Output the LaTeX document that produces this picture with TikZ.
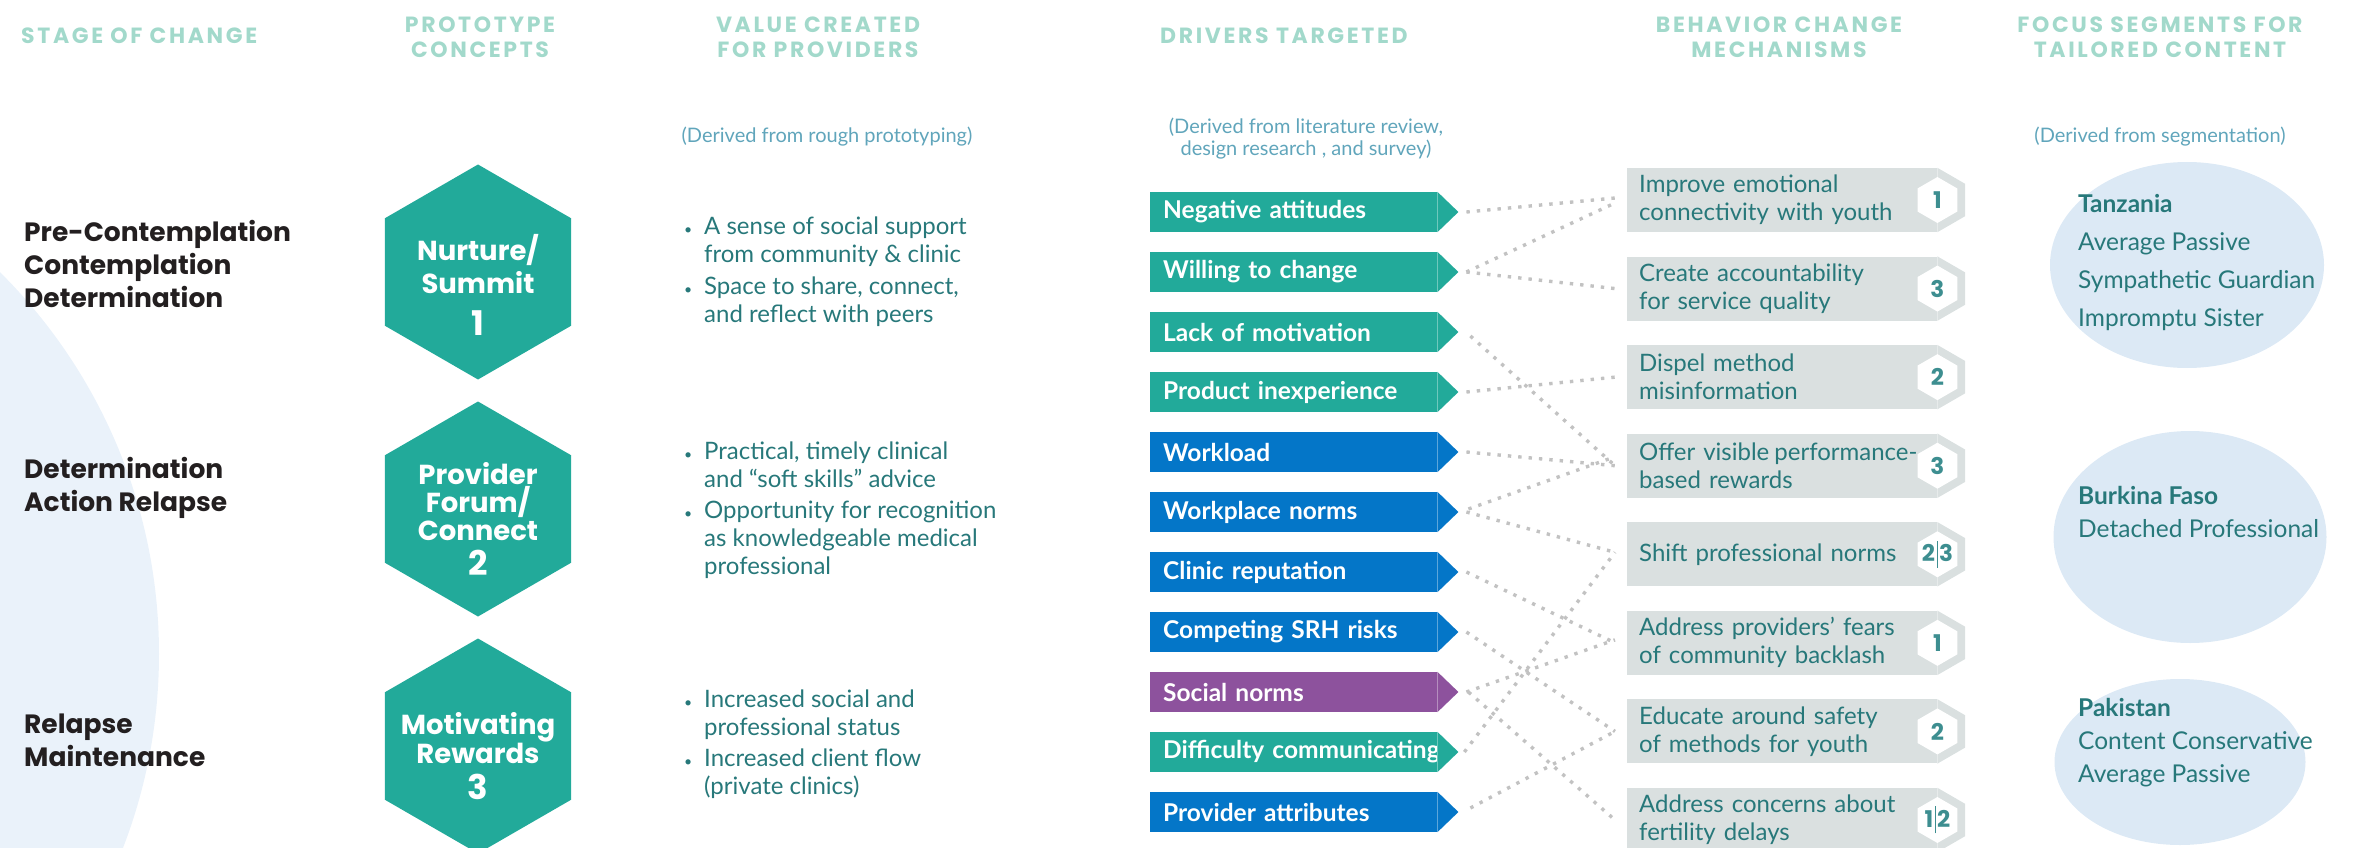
\documentclass[tikz,border=0pt]{standalone}
\usepackage{fontspec}
\setmainfont{Lato}
\newfontfamily\popf{Poppins}
\newfontfamily\popls{Poppins}[LetterSpace=12]
\usetikzlibrary{shapes.geometric}
\definecolor{cTeal}{HTML}{22AA9A}
\definecolor{cBlue}{HTML}{0476C8}
\definecolor{cPurple}{HTML}{8D529D}
\definecolor{cHead}{HTML}{A2D9CB}
\definecolor{cSub}{HTML}{60A5BB}
\definecolor{cText}{HTML}{27787A}
\definecolor{cDark}{HTML}{231F20}
\definecolor{cGray}{HTML}{DAE0E0}
\definecolor{cNum}{HTML}{3D8E90}
\definecolor{cBlob}{HTML}{DCE9F5}
\definecolor{cCircle}{HTML}{EAF2FA}
\definecolor{cDot}{HTML}{C2C2C2}
\newcommand\bul{\llap{{\fontsize{14}{14}\selectfont\textbullet}\hspace{12pt}}}
\newcommand\nsep{\hspace{1.5pt}\textcolor{cNum}{\rule[-6pt]{1pt}{27pt}}\hspace{1.5pt}}
\begin{document}
\begin{tikzpicture}[x=1pt,y=-1pt,
  hdr/.style={font=\popls\bfseries\fontsize{22}{25}\selectfont, text=cHead, align=center, inner sep=0},
  sub/.style={font=\fontsize{20}{22}\selectfont, text=cSub, align=center, inner sep=0},
  stage/.style={font=\popf\bfseries\fontsize{26.5}{33}\selectfont, text=cDark, align=left, anchor=west, inner sep=0},
  bighex/.style={regular polygon, regular polygon sides=6, shape border rotate=30, minimum size=215pt, inner sep=0, fill=cTeal},
  hextxt/.style={font=\popf\bfseries\fontsize{27.5}{31}\selectfont, text=white, align=center, inner sep=0},
  hexnum/.style={font=\popf\bfseries\fontsize{34}{34}\selectfont, text=white, inner sep=0},
  val/.style={font=\fontsize{24}{28}\selectfont, text=cText, align=left, anchor=north west, inner sep=0},
  drv/.style={rectangle, minimum width=287pt, minimum height=40pt, inner xsep=13pt, inner ysep=0pt, text width=261pt, align=left, font=\bfseries\fontsize{24.5}{24.5}\selectfont, text=white, anchor=west},
  mech/.style={rectangle, fill=cGray, minimum width=310pt, minimum height=64pt, inner xsep=12pt, inner ysep=0pt, text width=286pt, align=left, font=\fontsize{24}{28}\selectfont, text=cText, anchor=west},
  numhex/.style={regular polygon, regular polygon sides=6, shape border rotate=30, minimum size=46pt, inner sep=0, fill=white},
  numtxt/.style={font=\popf\bfseries\fontsize{23}{23}\selectfont, text=cNum, inner sep=0},
  conn/.style={draw=cDot, line width=3.4pt, dash pattern=on 3.4pt off 7pt},
  blob/.style={ellipse, fill=cBlob, inner sep=0},
  ftxt/.style={font=\fontsize{24.5}{38}\selectfont, text=cText, align=left, anchor=west, inner sep=0}
]
\useasboundingbox (0,0) rectangle (2354,848);
\clip (0,0) rectangle (2354,848);
% background circle
\fill[cCircle] (-379,654) circle[radius=538pt];
% headers
\node[hdr, anchor=west] (hStage) at (21,36) {STAGE OF CHANGE};
\node[hdr] (hProto) at (480,37.5) {PROTOTYPE\\CONCEPTS};
\node[hdr] (hValue) at (818,37.5) {VALUE CREATED\\FOR PROVIDERS};
\node[hdr, anchor=west] (hDrv) at (1160,36) {DRIVERS TARGETED};
\node[hdr] (hMech) at (1779,37.5) {BEHAVIOR CHANGE\\MECHANISMS};
\node[hdr] (hFocus) at (2160,37.5) {FOCUS SEGMENTS FOR\\TAILORED CONTENT};
% subtitles
\node[sub] (s1) at (827,137) {(Derived from rough prototyping)};
\node[sub] (s2) at (1306,139) {(Derived from literature review,\\design research , and survey)};
\node[sub] (s3) at (2160,137) {(Derived from segmentation)};
% stages
\node[stage] (st1) at (24,264) {Pre-Contemplation\\Contemplation\\Determination};
\node[stage] (st2) at (24,488) {Determination\\Action Relapse};
\node[stage] (st3) at (24,740) {Relapse\\Maintenance};
% hexagons
\node[bighex] (hx1) at (478,272) {};
\node[bighex] (hx2) at (478,509) {};
\node[bighex] (hx3) at (478,746) {};
\node[hextxt, font=\popf\bfseries\fontsize{27.5}{33}\selectfont] (hx1w) at (478,264.5) {Nurture/\\Summit};
\node[hexnum] (hx1n) at (478,323) {1};
\node[hextxt, font=\popf\bfseries\fontsize{27.5}{28}\selectfont] (hx2w) at (478,502) {Provider\\Forum/\\Connect};
\node[hexnum] (hx2n) at (478,563) {2};
\node[hextxt, font=\popf\bfseries\fontsize{27.5}{27}\selectfont] (hx3w) at (478,738.5) {Motivating\\Rewards};
\node[hexnum] (hx3n) at (478,787) {3};
% value text
\node[val] (v1) at (704,216.5) {\bul A sense of social support\\from community \& clinic\\[4pt]\bul Space to share, connect,\\and reflect with peers};
\node[val] (v2) at (704,441.5) {\bul Practical, timely clinical\\and “soft skills” advice\\[3pt]\bul Opportunity for recognition\\as knowledgeable medical\\professional};
\node[val] (v3) at (704,689.5) {\bul Increased social and\\professional status\\[3pt]\bul Increased client flow\\(private clinics)};
% drivers
\foreach \n/\k/\c/\t in {d1/0/cTeal/Negative attitudes, d2/1/cTeal/Willing to change, d3/2/cTeal/Lack of motivation, d4/3/cTeal/Product inexperience, d5/4/cBlue/Workload, d6/5/cBlue/Workplace norms, d7/6/cBlue/Clinic reputation, d8/7/cBlue/Competing SRH risks, d9/8/cPurple/Social norms, d10/9/cTeal/Difficulty communicating, d11/10/cBlue/Provider attributes}{
  \node[drv, fill=\c] (\n) at (1150,{212+60*\k}) {\mbox{\t}};
  \fill[\c] (\n.north east) -- ([xshift=21pt]\n.east) -- (\n.south east) -- cycle;
}
% mechanisms
\foreach \n/\k/\t/\num in {m1/0/{Improve emotional\\connectivity with youth}/1, m2/1/{Create accountability\\for service quality}/3, m3/2/{Dispel method\\misinformation}/2, m4/3/{\mbox{Offer visible\hspace{5pt}performance-}\\based rewards}/3, m5/4/{Shift professional norms}/{2\nsep 3}, m6/5/{Address providers’ fears\\of community backlash}/1, m7/6/{Educate around safety\\of methods for youth}/2, m8/7/{Address concerns about\\fertility delays}/{1\nsep 2}}{
  \node[mech] (\n) at (1627,{200+88.57*\k}) {\t};
  \fill[cGray] (\n.north east) -- ([shift={(27.7,16)}]\n.north east) -- ([shift={(27.7,-16)}]\n.south east) -- (\n.south east) -- cycle;
  \node[numhex] (\n h) at (\n.east) {};
  \node[numtxt] (\n n) at (\n.east) {\num};
}
% connectors
\draw[conn] ([xshift=29pt]d1.east) -- ([xshift=-12pt,yshift=2pt]m1.west);
\draw[conn] ([xshift=29pt]d2.east) -- ([xshift=-12pt,yshift=-3pt]m1.west);
\draw[conn] ([xshift=29pt]d2.east) -- ([xshift=-12pt]m2.west);
\draw[conn] ([xshift=33pt,yshift=-4pt]d3.east) -- ([xshift=-12pt]m4.west);
\draw[conn] ([xshift=29pt]d4.east) -- ([xshift=-12pt]m3.west);
\draw[conn] ([xshift=29pt]d5.east) -- ([xshift=-12pt]m4.west);
\draw[conn] ([xshift=31pt,yshift=3pt]d6.east) -- ([xshift=-12pt,yshift=9pt]m4.west);
\draw[conn] ([xshift=29pt]d6.east) -- ([xshift=-12pt,yshift=2pt]m5.west);
\draw[conn] ([xshift=29pt]d7.east) -- ([xshift=-12pt]m6.west);
\draw[conn] ([xshift=29pt]d8.east) -- ([xshift=-12pt]m7.west);
\draw[conn] ([xshift=29pt]d9.east) -- ([xshift=-12pt,yshift=3pt]m6.west);
\draw[conn] ([xshift=31pt]d9.east) -- ([xshift=-12pt]m8.west);
\draw[conn] ([xshift=27pt]d10.east) -- ([xshift=-12pt,yshift=2pt]m5.west);
\draw[conn] ([xshift=33pt,yshift=4pt]d11.east) -- ([xshift=-12pt]m7.west);
% focus segments
\node[blob, minimum width=274pt, minimum height=206pt] (f1) at (2187,265) {};
\node[blob, minimum width=273pt, minimum height=212pt] (f2) at (2190,537) {};
\node[blob, minimum width=251pt, minimum height=166pt] (f3) at (2180,762) {};
\node[ftxt] (f1t) at (2078,263) {\textbf{Tanzania}\\Average Passive\\Sympathetic Guardian\\Impromptu Sister};
\node[ftxt, font=\fontsize{24.5}{33}\selectfont] (f2t) at (2078,511.5) {\textbf{Burkina Faso}\\Detached Professional};
\node[ftxt, font=\fontsize{24.5}{33}\selectfont] (f3t) at (2078,743) {\textbf{Pakistan}\\Content Conservative\\Average Passive};
\end{tikzpicture}
\end{document}
